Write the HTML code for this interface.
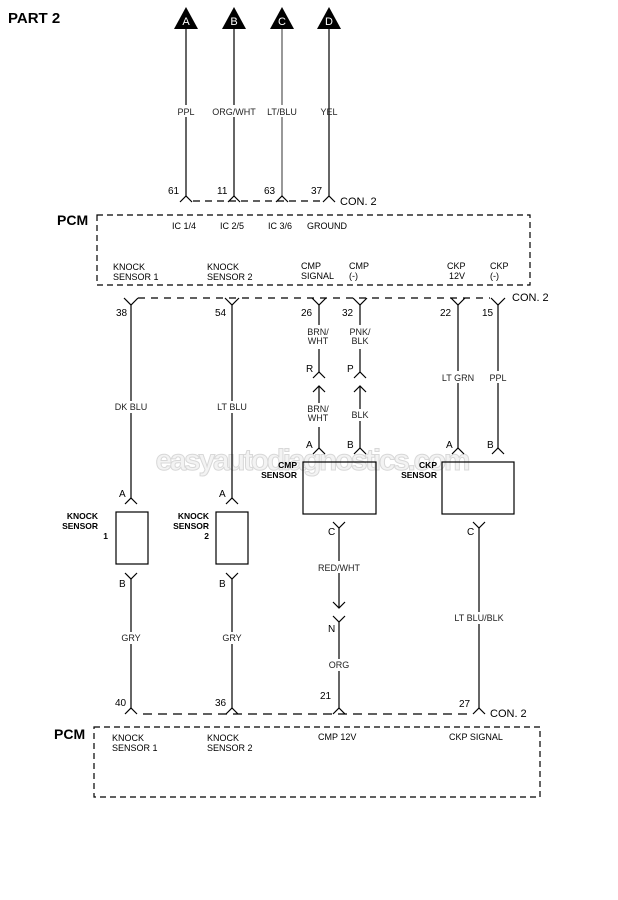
<!DOCTYPE html>
<html><head><meta charset="utf-8"><style>
html,body{margin:0;padding:0;background:#fff;}
svg{display:block;font-family:"Liberation Sans",Arial,sans-serif;}
</style></head><body>
<svg width="618" height="900" viewBox="0 0 618 900" xmlns="http://www.w3.org/2000/svg">
<rect width="618" height="900" fill="#fff"/>
<text x="8" y="23" font-size="15" font-weight="bold">PART 2</text>

<!-- watermark -->
<text x="313" y="470" font-size="30" font-weight="bold" text-anchor="middle" fill="#f3f3f3" stroke="#d8d8d8" stroke-width="1" textLength="315">easyautodiagnostics.com</text>

<g stroke="#000" stroke-width="1.2" fill="none">
<!-- top wires -->
<line x1="186" y1="28" x2="186" y2="196"/>
<line x1="234" y1="28" x2="234" y2="196"/>
<line x1="282" y1="28" x2="282" y2="196" stroke="#555"/>
<line x1="329" y1="28" x2="329" y2="196"/>
<!-- top chevrons ^ -->
<polyline points="180,202 186,196 192,202"/>
<polyline points="228,202 234,196 240,202"/>
<polyline points="276,202 282,196 288,202"/>
<polyline points="323,202 329,196 335,202"/>
<line x1="193" y1="201" x2="322" y2="201" stroke-dasharray="7,5"/>
<!-- PCM box 1 -->
<rect x="97" y="215" width="433" height="70" stroke-dasharray="6,4"/>
<!-- row 2 connectors -->
<line x1="138" y1="298" x2="490" y2="298" stroke-dasharray="7,6"/>
<polyline points="124,298 131,305 138,298"/>
<polyline points="225,298 232,305 239,298"/>
<polyline points="312,298 319,305 326,298"/>
<polyline points="353,298 360,305 367,298"/>
<polyline points="451,298 458,305 465,298"/>
<polyline points="491,298 498,305 505,298"/>
<!-- knock wires -->
<line x1="131" y1="305" x2="131" y2="498"/>
<line x1="232" y1="305" x2="232" y2="498"/>
<polyline points="125,504 131,498 137,504"/>
<polyline points="226,504 232,498 238,504"/>
<rect x="116" y="512" width="32" height="52"/>
<rect x="216" y="512" width="32" height="52"/>
<polyline points="125,573 131,579 137,573"/>
<polyline points="226,573 232,579 238,573"/>
<line x1="131" y1="579" x2="131" y2="708"/>
<line x1="232" y1="579" x2="232" y2="708"/>
<!-- CMP wires -->
<line x1="319" y1="305" x2="319" y2="372"/>
<line x1="360" y1="305" x2="360" y2="372"/>
<polyline points="313,378 319,372 325,378"/>
<polyline points="354,378 360,372 366,378"/>
<line x1="319" y1="386" x2="319" y2="448"/>
<line x1="360" y1="386" x2="360" y2="448"/>
<polyline points="313,392 319,386 325,392"/>
<polyline points="354,392 360,386 366,392"/>
<polyline points="313,454 319,448 325,454"/>
<polyline points="354,454 360,448 366,454"/>
<rect x="303" y="462" width="73" height="52"/>
<polyline points="333,522 339,528 345,522"/>
<line x1="339" y1="528" x2="339" y2="608"/>
<polyline points="333,602 339,608 345,602"/>
<polyline points="333,616 339,622 345,616"/>
<line x1="339" y1="622" x2="339" y2="708"/>
<!-- CKP wires -->
<line x1="458" y1="305" x2="458" y2="448"/>
<line x1="498" y1="305" x2="498" y2="448"/>
<polyline points="452,454 458,448 464,454"/>
<polyline points="492,454 498,448 504,454"/>
<rect x="442" y="462" width="72" height="52"/>
<polyline points="473,522 479,528 485,522"/>
<line x1="479" y1="528" x2="479" y2="708"/>
<!-- bottom chevrons -->
<polyline points="125,714 131,708 137,714"/>
<polyline points="226,714 232,708 238,714"/>
<polyline points="333,714 339,708 345,714"/>
<polyline points="473,714 479,708 485,714"/>
<line x1="143" y1="714" x2="470" y2="714" stroke-dasharray="9,6"/>
<rect x="94" y="727" width="446" height="70" stroke-dasharray="6,4"/>
</g>

<!-- triangles -->
<g fill="#000">
<polygon points="186,7 174,29 198,29"/>
<polygon points="234,7 222,29 246,29"/>
<polygon points="282,7 270,29 294,29"/>
<polygon points="329,7 317,29 341,29"/>
</g>
<g fill="#fff" font-size="11" text-anchor="middle">
<text x="186" y="25">A</text><text x="234" y="25">B</text><text x="282" y="25">C</text><text x="329" y="25">D</text>
</g>

<g font-size="9" text-anchor="middle" fill="#222">
<rect x="170" y="105" width="150" height="12" fill="#fff"/>
<text x="186" y="115">PPL</text>
<text x="234" y="115">ORG/WHT</text>
<text x="282" y="115">LT/BLU</text>
<text x="329" y="115">YEL</text>
</g>
<g font-size="10" fill="#000">
<text x="168" y="194">61</text><text x="217" y="194">11</text><text x="264" y="194">63</text><text x="311" y="194">37</text>
<text x="340" y="205" font-size="11">CON. 2</text>
<text x="57" y="225" font-size="14" font-weight="bold">PCM</text>
</g>
<g font-size="9" fill="#000">
<text x="172" y="229">IC 1/4</text><text x="220" y="229">IC 2/5</text><text x="268" y="229">IC 3/6</text><text x="307" y="229">GROUND</text>
<text x="113" y="270">KNOCK</text><text x="113" y="280">SENSOR 1</text>
<text x="207" y="270">KNOCK</text><text x="207" y="280">SENSOR 2</text>
<text x="301" y="269">CMP</text><text x="301" y="279">SIGNAL</text>
<text x="349" y="269">CMP</text><text x="349" y="279">(-)</text>
<text x="447" y="269">CKP</text><text x="449" y="279">12V</text>
<text x="490" y="269">CKP</text><text x="490" y="279">(-)</text>
<text x="512" y="301" font-size="11">CON. 2</text>
</g>
<g font-size="10" fill="#000">
<text x="116" y="316">38</text><text x="215" y="316">54</text><text x="301" y="316">26</text><text x="342" y="316">32</text><text x="440" y="316">22</text><text x="482" y="316">15</text>
</g>
<!-- wire labels -->
<g font-size="9" text-anchor="middle" fill="#222">
<rect x="110" y="401" width="45" height="12" fill="#fff"/>
<text x="131" y="410">DK BLU</text>
<rect x="212" y="401" width="40" height="12" fill="#fff"/>
<text x="232" y="410">LT BLU</text>
<rect x="300" y="325" width="38" height="24" fill="#fff"/>
<text x="318" y="335">BRN/</text><text x="318" y="344">WHT</text>
<rect x="345" y="325" width="30" height="24" fill="#fff"/>
<text x="360" y="335">PNK/</text><text x="360" y="344">BLK</text>
<rect x="300" y="403" width="38" height="24" fill="#fff"/>
<text x="318" y="412">BRN/</text><text x="318" y="421">WHT</text>
<rect x="345" y="409" width="30" height="12" fill="#fff"/>
<text x="360" y="418">BLK</text>
<rect x="436" y="371" width="44" height="12" fill="#fff"/>
<text x="458" y="381">LT GRN</text>
<rect x="486" y="371" width="24" height="12" fill="#fff"/>
<text x="498" y="381">PPL</text>
<rect x="312" y="561" width="56" height="12" fill="#fff"/>
<text x="339" y="571">RED/WHT</text>
<rect x="448" y="612" width="62" height="12" fill="#fff"/>
<text x="479" y="621">LT BLU/BLK</text>
<rect x="118" y="632" width="26" height="12" fill="#fff"/>
<text x="131" y="641">GRY</text>
<rect x="219" y="632" width="26" height="12" fill="#fff"/>
<text x="232" y="641">GRY</text>
<rect x="326" y="659" width="26" height="12" fill="#fff"/>
<text x="339" y="668">ORG</text>
</g>
<!-- pin letters -->
<g font-size="10" fill="#000">
<text x="306" y="372">R</text><text x="347" y="372">P</text>
<text x="306" y="448">A</text><text x="347" y="448">B</text>
<text x="446" y="448">A</text><text x="487" y="448">B</text>
<text x="119" y="497">A</text><text x="219" y="497">A</text>
<text x="119" y="587">B</text><text x="219" y="587">B</text>
<text x="328" y="535">C</text><text x="467" y="535">C</text>
<text x="328" y="632">N</text>
<text x="115" y="706">40</text><text x="215" y="706">36</text><text x="320" y="699">21</text><text x="459" y="707">27</text>
<text x="490" y="717" font-size="11">CON. 2</text>
<text x="54" y="739" font-size="14" font-weight="bold">PCM</text>
</g>
<g font-size="8.5" font-weight="bold" fill="#000" text-anchor="end">
<text x="98" y="519">KNOCK</text><text x="98" y="529">SENSOR</text><text x="108" y="539">1</text>
<text x="209" y="519">KNOCK</text><text x="209" y="529">SENSOR</text><text x="209" y="539">2</text>
<text x="297" y="468">CMP</text><text x="297" y="478">SENSOR</text>
<text x="437" y="468">CKP</text><text x="437" y="478">SENSOR</text>
</g>
<g font-size="9" fill="#000">
<text x="112" y="741">KNOCK</text><text x="112" y="751">SENSOR 1</text>
<text x="207" y="741">KNOCK</text><text x="207" y="751">SENSOR 2</text>
<text x="318" y="740">CMP 12V</text>
<text x="449" y="740">CKP SIGNAL</text>
</g>
</svg>
</body></html>
